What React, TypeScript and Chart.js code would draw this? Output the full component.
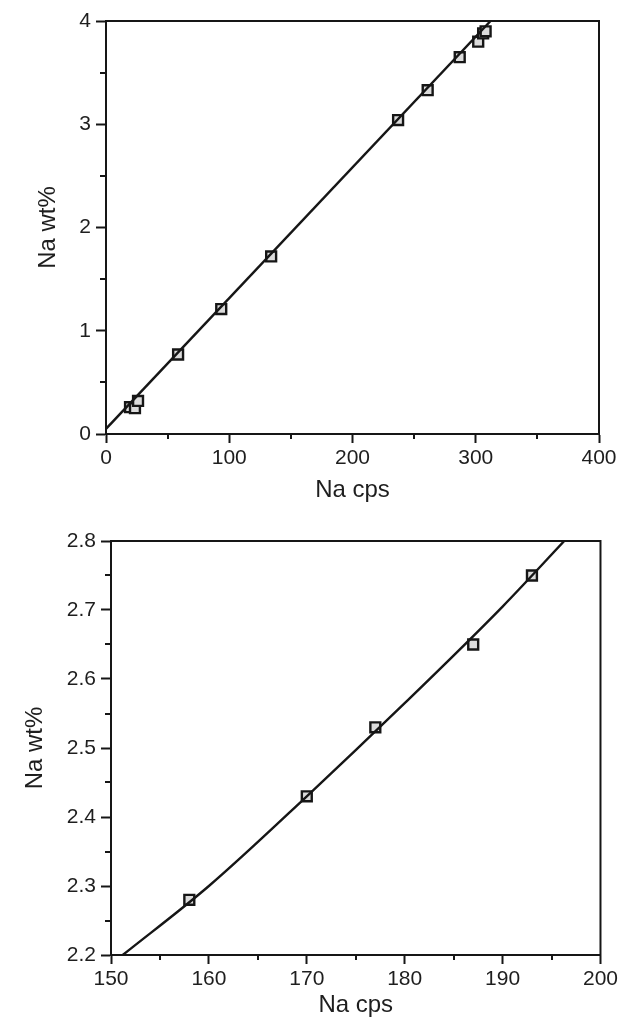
import React, { useEffect, useRef } from "react";
import { Chart, registerables } from "chart.js";

Chart.register(...registerables);

// ---------- Top panel data ----------
const topCps = [19.5, 23.5, 26, 58.5, 93.5, 134, 237, 261, 287, 302, 306, 308];
const topWt = [0.26, 0.25, 0.32, 0.77, 1.21, 1.72, 3.04, 3.33, 3.65, 3.8, 3.88, 3.9];
const topFitCps = [0, 312];
const topFitWt = [0.05, 4.0];
const topXTicks = [0, 100, 200, 300, 400];
const topYTicks = [0, 1, 2, 3, 4];

// ---------- Bottom panel data ----------
const botCps = [158, 170, 177, 187, 193];
const botWt = [2.28, 2.43, 2.53, 2.65, 2.75];
const botFitCps = [151.2, 160, 170, 180, 190, 196.3];
const botFitWt = [2.2, 2.3, 2.43, 2.565, 2.705, 2.8];
const botXTicks = [150, 160, 170, 180, 190, 200];
const botYTicks = [2.2, 2.3, 2.4, 2.5, 2.6, 2.7, 2.8];

const INK = "#161616";
const FONT = "'Liberation Sans', Arial, Helvetica, sans-serif";

const framePlugin = {
  id: "frameMinor",
  afterDraw(chart: any) {
    const { ctx, chartArea: a, scales } = chart;
    ctx.save();
    ctx.strokeStyle = INK;
    ctx.lineWidth = 2;
    ctx.strokeRect(a.left, a.top, a.right - a.left, a.bottom - a.top);
    ctx.lineWidth = 2;
    const xs = scales.x;
    const ys = scales.y;
    const xt = xs.ticks.map((t: any) => t.value);
    for (let i = 0; i < xt.length - 1; i++) {
      const p = Math.round(xs.getPixelForValue((xt[i] + xt[i + 1]) / 2));
      ctx.beginPath();
      ctx.moveTo(p, a.bottom);
      ctx.lineTo(p, a.bottom + 5);
      ctx.stroke();
    }
    const yt = ys.ticks.map((t: any) => t.value);
    for (let i = 0; i < yt.length - 1; i++) {
      const p = Math.round(ys.getPixelForValue((yt[i] + yt[i + 1]) / 2));
      ctx.beginPath();
      ctx.moveTo(a.left, p);
      ctx.lineTo(a.left - 6, p);
      ctx.stroke();
    }
    ctx.restore();
  },
};

type PanelCfg = {
  cps: number[];
  wt: number[];
  fitCps: number[];
  fitWt: number[];
  xTicks: number[];
  yTicks: number[];
  xMin: number;
  xMax: number;
  yMin: number;
  yMax: number;
  yDecimals: number;
  width: number;
  height: number;
  yAxisWidth: number;
  xAxisHeight: number;
  padTop: number;
  padRight: number;
  xTitlePad: number;
  yTitlePad: number;
};

function Panel(props: { cfg: PanelCfg; top: number }) {
  const ref = useRef<HTMLCanvasElement | null>(null);
  const c = props.cfg;
  useEffect(() => {
    if (!ref.current) return;
    const pts = c.cps.map((x, i) => ({ x, y: c.wt[i] }));
    const fit = c.fitCps.map((x, i) => ({ x, y: c.fitWt[i] }));
    const chart = new Chart(ref.current, {
      type: "scatter",
      data: {
        datasets: [
          {
            type: "line",
            data: fit,
            borderColor: INK,
            borderWidth: 2.4,
            pointRadius: 0,
            cubicInterpolationMode: "monotone",
            fill: false,
          } as any,
          {
            data: pts,
            pointStyle: "rect",
            pointRadius: 7,
            pointBackgroundColor: "#dcdcdc",
            pointBorderColor: INK,
            pointBorderWidth: 2.4,
          },
          {
            data: pts,
            pointStyle: "rect",
            pointRadius: 1.8,
            pointBackgroundColor: "#2a2a2a",
            pointBorderWidth: 0,
          },
        ],
      },
      options: {
        responsive: false,
        animation: false,
        events: [],
        layout: {
          padding: { top: c.padTop, right: c.padRight, left: 0, bottom: 0 },
        },
        plugins: {
          legend: { display: false },
          tooltip: { enabled: false },
        },
        scales: {
          x: {
            type: "linear",
            min: c.xMin,
            max: c.xMax,
            afterBuildTicks: (s: any) => {
              s.ticks = c.xTicks.map((v) => ({ value: v }));
            },
            afterFit: (s: any) => {
              s.height = c.xAxisHeight;
            },
            grid: {
              drawOnChartArea: false,
              drawTicks: true,
              tickLength: 9,
              tickWidth: 2,
              tickColor: INK,
            },
            border: { display: true, color: INK, width: 2 },
            ticks: {
              color: "#1e1e1e",
              padding: 3,
              maxRotation: 0,
              font: { family: FONT, size: 21 },
              callback: (v: any) => String(v),
            },
            title: {
              display: true,
              text: "Na cps",
              color: "#1e1e1e",
              font: { family: FONT, size: 24 },
              padding: { top: 0, bottom: c.xTitlePad },
            },
          },
          y: {
            type: "linear",
            min: c.yMin,
            max: c.yMax,
            afterBuildTicks: (s: any) => {
              s.ticks = c.yTicks.map((v) => ({ value: v }));
            },
            afterFit: (s: any) => {
              s.width = c.yAxisWidth;
            },
            grid: {
              drawOnChartArea: false,
              drawTicks: true,
              tickLength: 10,
              tickWidth: 2,
              tickColor: INK,
            },
            border: { display: true, color: INK, width: 2 },
            ticks: {
              color: "#1e1e1e",
              padding: 5,
              font: { family: FONT, size: 21 },
              callback: (v: any) => Number(v).toFixed(c.yDecimals),
            },
            title: {
              display: true,
              text: "Na wt%",
              color: "#1e1e1e",
              font: { family: FONT, size: 24 },
              padding: { top: c.yTitlePad, bottom: 0 },
            },
          },
        },
      },
      plugins: [framePlugin],
    });
    return () => chart.destroy();
  }, []);
  return (
    <canvas
      ref={ref}
      width={c.width}
      height={c.height}
      style={{
        position: "absolute",
        left: 0,
        top: props.top,
        width: c.width,
        height: c.height,
        display: "block",
      }}
    />
  );
}

const topCfg: PanelCfg = {
  cps: topCps,
  wt: topWt,
  fitCps: topFitCps,
  fitWt: topFitWt,
  xTicks: topXTicks,
  yTicks: topYTicks,
  xMin: 0,
  xMax: 400,
  yMin: 0,
  yMax: 4,
  yDecimals: 0,
  width: 621,
  height: 510,
  yAxisWidth: 106,
  xAxisHeight: 76,
  padTop: 21,
  padRight: 22,
  xTitlePad: 5,
  yTitlePad: 34,
};

const botCfg: PanelCfg = {
  cps: botCps,
  wt: botWt,
  fitCps: botFitCps,
  fitWt: botFitWt,
  xTicks: botXTicks,
  yTicks: botYTicks,
  xMin: 150,
  xMax: 200,
  yMin: 2.2,
  yMax: 2.8,
  yDecimals: 1,
  width: 621,
  height: 511,
  yAxisWidth: 111,
  xAxisHeight: 66,
  padTop: 31,
  padRight: 20,
  xTitlePad: 1,
  yTitlePad: 21,
};

export default function App() {
  return (
    <div
      style={{
        position: "absolute",
        left: 0,
        top: 0,
        width: 621,
        height: 1021,
        background: "#fff",
      }}
    >
      <Panel cfg={topCfg} top={0} />
      <Panel cfg={botCfg} top={510} />
    </div>
  );
}
